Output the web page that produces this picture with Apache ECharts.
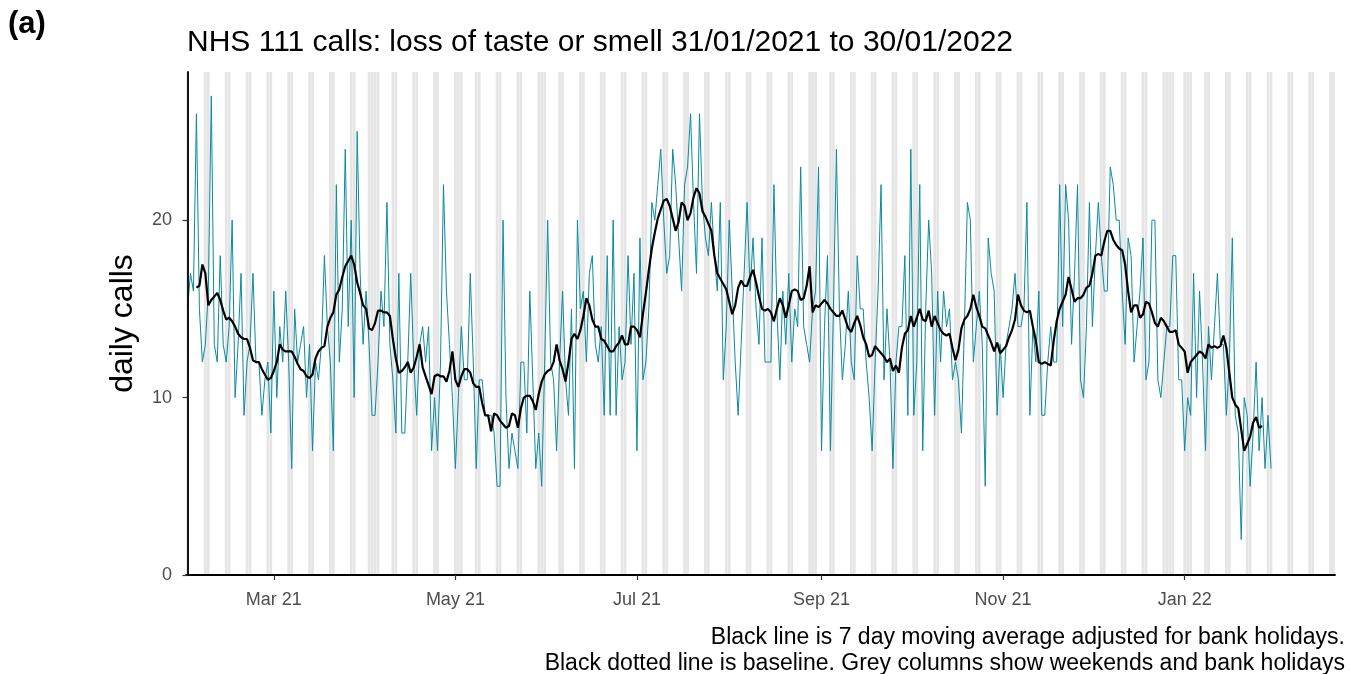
<!DOCTYPE html>
<html>
<head>
<meta charset="utf-8">
<script src="https://cdn.jsdelivr.net/npm/echarts@6/dist/echarts.min.js"></script>
<style>
html,body{margin:0;padding:0;background:#fff;}
#chart{width:1350px;height:674px;}
</style>
</head>
<body>
<div id="chart"></div>
<script>
// ---- data ----
const startDate = '2021-01-31';
const axisEndDate = '2022-02-20';
const tickDates = ['2021-03-01','2021-05-01','2021-07-01','2021-09-01','2021-11-01','2022-01-01'];
const tickLabels = ['Mar 21','May 21','Jul 21','Sep 21','Nov 21','Jan 22'];
const bankHolidays = ['2021-04-02','2021-04-05','2021-05-03','2021-05-31','2021-08-30','2021-12-27','2021-12-28','2022-01-03'];
const yTicks = [0, 10, 20];

// daily calls, one value per day from 31/01/2021
const dailyCalls = [
15,17,16,26,15,12,13,16,27,13,
12,18,13,12,14,20,10,13,17,9,
12,13,17,12,12,9,11,12,8,16,
10,14,12,16,12,6,15,12,13,14,
10,13,7,12,11,13,18,14,12,7,
22,12,15,24,14,20,10,25,17,13,
16,13,9,9,12,16,14,21,13,11,
8,17,8,8,12,17,12,9,13,14,
12,14,7,10,7,12,22,16,13,10,
6,10,14,11,11,17,12,6,11,11,
9,9,9,8,5,5,20,10,6,8,
7,6,12,12,8,16,11,6,8,5,
12,20,12,11,7,12,16,11,9,15,
6,20,15,16,12,17,18,13,12,14,
9,18,9,20,9,14,11,12,18,13,
17,7,19,11,12,15,21,20,22,24,
20,17,18,24,22,19,16,22,23,26,
21,17,26,21,19,18,21,18,16,21,
11,14,20,16,12,9,13,17,21,16,
19,15,13,19,12,12,12,22,15,11,
16,13,17,12,15,14,23,14,13,12,
15,16,23,7,14,18,7,15,24,15,
11,13,16,12,11,18,15,15,12,10,
7,12,16,22,11,15,12,6,12,14,
14,18,9,24,9,12,22,7,15,20,
17,9,16,12,16,14,15,11,12,11,
8,14,21,20,12,14,16,13,5,19,
17,16,9,13,10,13,14,15,17,14,
14,15,21,9,14,12,16,9,9,12,
14,12,12,22,14,22,20,13,17,22,
11,10,14,21,14,18,21,18,16,16,
23,22,20,20,16,13,19,18,12,14,
16,19,11,12,20,20,11,10,12,14,
14,18,18,11,11,7,10,9,17,10,
16,12,7,14,11,14,17,13,13,9,
12,19,9,8,2,10,9,5,8,12,
7,10,6,9,6
];

// 7 day moving average (black line), same days; null where not drawn
const movingAvg = [
null,null,null,16.2,16.3,17.5,17.0,15.2,15.5,15.7,
15.9,15.5,14.9,14.4,14.5,14.3,14.0,13.6,13.4,13.3,
13.3,12.8,12.1,12.0,12.0,11.6,11.3,11.0,11.1,11.5,
12.0,13.0,12.7,12.6,12.6,12.6,12.3,11.9,11.6,11.5,
11.2,11.1,11.3,12.2,12.6,12.8,12.9,14.0,14.5,14.8,
15.8,16.1,16.8,17.4,17.7,18.0,17.5,16.5,15.9,15.2,
15.0,13.9,13.8,14.2,14.9,14.9,14.8,14.8,14.6,13.3,
12.2,11.4,11.5,11.7,12.0,11.4,11.7,12.3,13.0,11.7,
11.2,10.7,10.2,11.2,11.3,11.2,11.2,10.9,11.5,12.6,
11.0,10.6,11.2,11.6,11.6,11.4,10.8,10.6,10.6,9.7,
9.0,9.0,8.1,9.1,9.0,8.7,8.5,8.3,8.4,9.1,
9.0,8.3,9.4,10.0,10.1,10.1,9.8,9.3,10.2,10.9,
11.3,11.5,11.6,12.0,13.0,12.1,11.6,10.9,12.0,13.3,
13.6,13.3,13.8,14.6,15.6,15.2,14.4,14.0,14.0,13.3,
13.2,12.9,12.6,12.6,12.9,13.1,13.5,13.0,13.0,14.0,
14.0,13.8,13.4,14.7,15.9,17.2,18.4,19.3,20.1,20.6,
21.1,21.2,20.8,20.1,19.4,19.9,21.0,20.8,20.0,20.4,
21.3,21.8,21.5,20.5,20.2,19.8,19.4,18.0,17.0,16.7,
16.4,16.1,15.4,14.7,15.2,16.2,16.6,16.3,16.3,16.8,
17.2,16.5,15.7,15.0,14.9,15.0,14.8,14.3,15.0,15.6,
15.2,14.5,15.2,16.0,16.1,16.0,15.5,15.6,16.3,17.4,
14.8,15.2,15.1,15.3,15.5,15.3,15.0,14.8,14.6,14.6,
14.9,14.4,13.9,13.7,14.2,14.6,14.1,13.4,13.0,12.3,
12.4,12.9,12.7,12.5,12.3,12.0,12.2,11.5,11.8,11.4,
12.8,13.6,13.8,14.6,14.0,14.5,15.0,14.4,14.3,14.9,
14.0,14.6,14.2,13.8,13.6,13.5,13.6,12.8,12.1,12.7,
13.9,14.4,14.6,15.0,15.8,15.1,14.6,14.0,13.9,13.5,
13.1,12.6,13.1,12.5,12.7,12.9,13.4,13.8,14.4,15.8,
15.2,14.9,14.8,14.9,14.0,13.2,12.0,11.9,12.0,11.9,
11.8,13.2,14.3,15.0,15.4,15.8,16.8,16.1,15.4,15.6,
15.6,15.8,16.2,16.3,17.0,18.0,18.1,18.0,18.8,19.4,
19.4,18.9,18.6,18.4,18.3,17.5,16.0,14.8,15.2,15.2,
14.5,14.7,15.4,15.3,14.8,14.2,14.0,14.5,14.3,14.0,
13.7,13.7,13.8,13.0,12.8,12.6,11.4,12.0,12.2,12.4,
12.6,12.5,12.2,13.0,12.8,12.9,12.8,12.9,13.5,12.8,
11.4,10.0,9.6,9.4,8.2,7.0,7.4,7.8,8.6,8.9,
8.3,8.4,null,null,null
];

// ---- helpers ----
const DAY = 86400000;
function dayIndex(s){
  const a = s.split('-').map(Number), b = startDate.split('-').map(Number);
  return Math.round((Date.UTC(a[0],a[1]-1,a[2]) - Date.UTC(b[0],b[1]-1,b[2]))/DAY);
}
const lastDay = dayIndex(axisEndDate);
const tickIdx = tickDates.map(dayIndex);
const bhIdx = bankHolidays.map(dayIndex);
const greyDays = [];
for (let d = 0; d <= lastDay; d++) {
  const dow = d % 7; // 0 = Sunday (31/01/2021 was a Sunday)
  if (dow === 0 || dow === 6 || bhIdx.indexOf(d) >= 0) greyDays.push([d, 0]);
}
const yMax = 28.35;
const FONT = '"Liberation Sans", Arial, sans-serif';

const chart = echarts.init(document.getElementById('chart'), null, {renderer:'canvas'});
chart.setOption({
  animation: false,
  backgroundColor: '#ffffff',
  textStyle: {fontFamily: FONT},
  title: {
    text: 'NHS 111 calls: loss of taste or smell 31/01/2021 to 30/01/2022',
    left: 182, top: 23,
    textStyle: {fontFamily: FONT, fontSize: 30, fontWeight: 'normal', color: '#000'}
  },
  graphic: [
    {type:'text', left: 8, top: 9, style:{text:'(a)', font:'bold 31px ' + FONT, fill:'#000'}},
    {type:'text', right: 5, top: 626, style:{text:'Black line is 7 day moving average adjusted for bank holidays.', font:'23px ' + FONT, fill:'#000', textAlign:'right'}},
    {type:'text', right: 5, top: 652, style:{text:'Black dotted line is baseline. Grey columns show weekends and bank holidays', font:'23px ' + FONT, fill:'#000', textAlign:'right'}}
  ],
  grid: {left: 186, right: 15, top: 72, bottom: 99, containLabel: false},
  xAxis: {
    type: 'value', min: -0.5, max: lastDay + 0.5, z: 10,
    splitLine: {show: false},
    axisLine: {show: true, lineStyle: {color: '#000', width: 1.8}},
    axisTick: {show: true, customValues: tickIdx, length: 5, lineStyle: {color: '#333', width: 1.2}},
    axisLabel: {
      customValues: tickIdx, fontSize: 18, color: '#4d4d4d', margin: 16, fontFamily: FONT,
      formatter: function(v){ const k = tickIdx.indexOf(Math.round(v)); return k >= 0 ? tickLabels[k] : ''; }
    }
  },
  yAxis: {
    type: 'value', min: 0, max: yMax, z: 10,
    name: 'daily calls', nameLocation: 'middle', nameGap: 47,
    nameTextStyle: {fontSize: 32, color: '#000', fontFamily: FONT},
    splitLine: {show: false},
    axisLine: {show: true, lineStyle: {color: '#000', width: 1.8}},
    axisTick: {show: true, customValues: yTicks, length: 5, lineStyle: {color: '#333', width: 1.2}},
    axisLabel: {customValues: yTicks, fontSize: 18, color: '#4d4d4d', margin: 14, fontFamily: FONT}
  },
  series: [
    {
      type: 'custom', name: 'grey', silent: true, clip: true, z: 1,
      encode: {x: 0, y: 1},
      data: greyDays,
      renderItem: function(params, api){
        const d = api.value(0);
        const p1 = api.coord([d - 0.45, yMax]);
        const p2 = api.coord([d + 0.45, 0]);
        return {type:'rect', shape:{x:p1[0], y:p1[1], width:p2[0]-p1[0], height:p2[1]-p1[1]}, style:{fill:'#e5e5e5'}};
      }
    },
    {
      type: 'line', name: 'daily', z: 3, showSymbol: false, symbol: 'none', silent: true,
      data: dailyCalls.map((v, i) => [i, v]),
      lineStyle: {color: '#0b8a9e', width: 1}
    },
    {
      type: 'line', name: 'ma', z: 4, showSymbol: false, symbol: 'none', silent: true,
      data: movingAvg.map((v, i) => [i, v]).filter(p => p[1] !== null),
      lineStyle: {color: '#000', width: 2.2}
    }
  ]
});
</script>
</body>
</html>
